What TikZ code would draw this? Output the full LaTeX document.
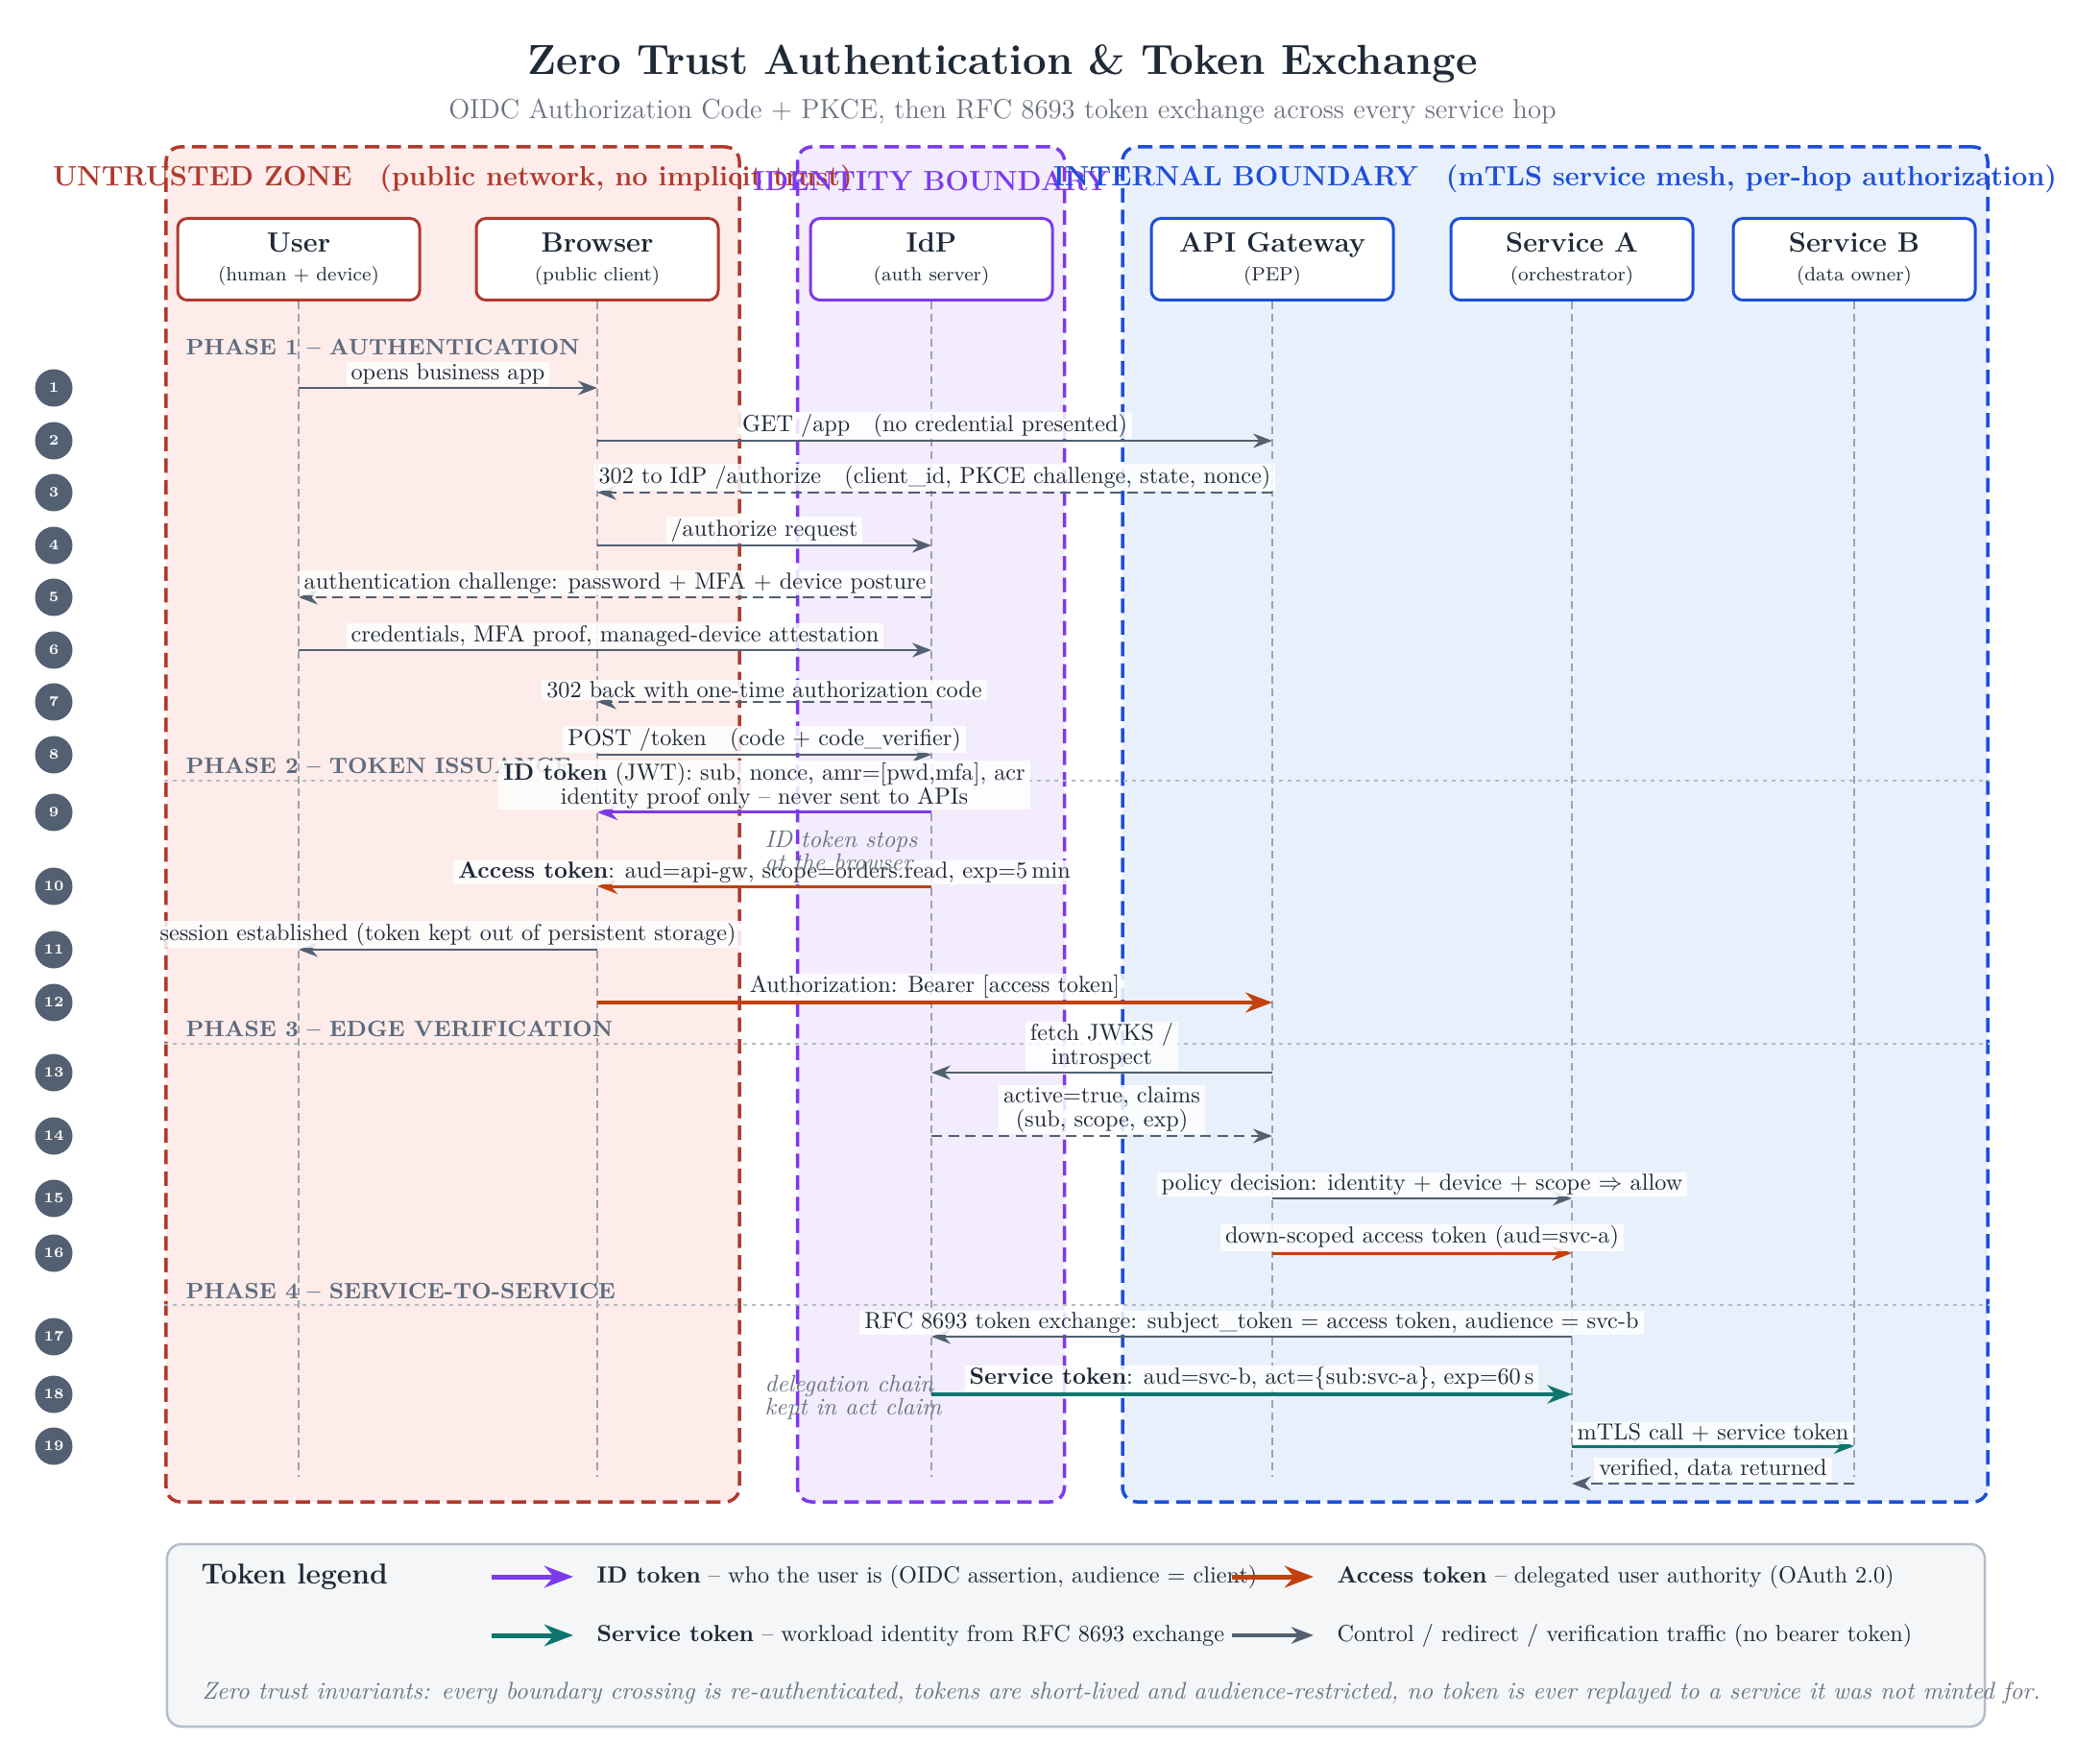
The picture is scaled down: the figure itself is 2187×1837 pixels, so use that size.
\documentclass[tikz,border=0pt]{standalone}
\usepackage{fontspec}
\usepackage{tikz}
\usetikzlibrary{arrows.meta, positioning, calc}

\definecolor{inkdark}{HTML}{1F2937}
\definecolor{inkgray}{HTML}{6B7280}
\definecolor{slate}{HTML}{526072}
\definecolor{phasetext}{HTML}{5E6B7D}
\definecolor{zonered}{HTML}{B03A2E}
\definecolor{zonepurple}{HTML}{7C3AED}
\definecolor{zoneblue}{HTML}{1D4ED8}
\definecolor{fillred}{HTML}{FDECEA}
\definecolor{fillpurple}{HTML}{F2ECFD}
\definecolor{fillblue}{HTML}{E8F0FB}
\definecolor{tokid}{HTML}{7C3AED}
\definecolor{tokaccess}{HTML}{C2410C}
\definecolor{tokservice}{HTML}{0F766E}
\definecolor{lifegray}{HTML}{9CA3AF}
\definecolor{phasegray}{HTML}{B5BBC4}
\definecolor{legendbg}{HTML}{F4F6F8}
\definecolor{legendline}{HTML}{B4BECA}

\begin{document}
\begin{tikzpicture}[
    x=0.4pt, y=-0.4pt,
    zone/.style={rectangle, draw=#1, line width=1.4pt, dash pattern=on 6pt off 3pt, rounded corners=6pt},
    zonelabel/.style={font=\fontsize{11.6}{13}\selectfont\bfseries, text=#1},
    actor/.style={rectangle, draw=#1, fill=white, line width=1.2pt, rounded corners=4pt, minimum width=100.8pt, minimum height=34pt, align=center, text=inkdark},
    lifeline/.style={draw=lifegray, line width=0.6pt, dash pattern=on 3.2pt off 2pt},
    phaseline/.style={draw=phasegray, line width=0.6pt, dash pattern=on 1.6pt off 2pt},
    phase/.style={anchor=west, inner sep=0pt, font=\fontsize{9.3}{11}\selectfont\bfseries, text=phasetext},
    stepnum/.style={circle, fill=slate, text=white, minimum size=15.6pt, inner sep=0pt, font=\fontsize{6}{7}\selectfont\bfseries},
    msg/.style={midway, above=0.4pt, fill=white, fill opacity=0.85, text opacity=1, inner xsep=2pt, inner ysep=0.6pt, align=center, text=inkdark, font=\fontsize{9.7}{10}\selectfont},
    note/.style={anchor=west, inner sep=0pt, align=left, text=inkgray, font=\fontsize{10}{9.8}\selectfont\itshape},
    ctrl/.style={-{Stealth}, line width=1.1pt, draw=slate},
    ctrldash/.style={ctrl, dash pattern=on 4.5pt off 2.5pt},
    tok/.style={-{Stealth}, line width=1.2pt, draw=#1},
    legendbox/.style={rectangle, draw=legendline, fill=legendbg, line width=1pt, rounded corners=6pt},
    legarrow/.style={-{Stealth}, line width=2pt, draw=#1},
    legtext/.style={anchor=west, inner sep=0pt, text=inkdark, font=\fontsize{9.7}{11}\selectfont}
]
\useasboundingbox (0,0) rectangle (2187,1837);

% === TITLE ===
\node[font=\fontsize{17.5}{21}\selectfont\bfseries, text=inkdark] (title) at (1044,66) {Zero Trust Authentication \& Token Exchange};
\node[font=\fontsize{11.5}{14}\selectfont, text=inkgray] (subtitle) at (1044,116) {OIDC Authorization Code + PKCE, then RFC 8693 token exchange across every service hop};

% === ZONES ===
\node[zone=zonered, fill=fillred, minimum width=238.8pt, minimum height=564.4pt] (untrusted) at (471.5,858.5) {};
\node[zone=zonepurple, fill=fillpurple, minimum width=111.2pt, minimum height=564.4pt] (identity) at (969.5,858.5) {};
\node[zone=zoneblue, fill=fillblue, minimum width=360.4pt, minimum height=564.4pt] (internal) at (1619.5,858.5) {};

\node[zonelabel=zonered] at ([yshift=-14.2pt]untrusted.north) {UNTRUSTED ZONE\quad(public network, no implicit trust)};
\node[zonelabel=zonepurple] at ([yshift=-15pt]identity.north) {IDENTITY BOUNDARY};
\node[zonelabel=zoneblue] at ([yshift=-14.2pt]internal.north) {INTERNAL BOUNDARY\quad(mTLS service mesh, per-hop authorization)};

% === PARTICIPANTS ===
\node[actor=zonered] (user) at (311,270) {{\fontsize{11.6}{13}\selectfont\bfseries User}\\[0pt]{\footnotesize (human + device)}};
\node[actor=zonered] (browser) at (622,270) {{\fontsize{11.6}{13}\selectfont\bfseries Browser}\\[0pt]{\footnotesize (public client)}};
\node[actor=zonepurple] (idp) at (970,270) {{\fontsize{11.6}{13}\selectfont\bfseries IdP}\\[0pt]{\footnotesize (auth server)}};
\node[actor=zoneblue] (gw) at (1325,270) {{\fontsize{11.6}{13}\selectfont\bfseries API Gateway}\\[0pt]{\footnotesize (PEP)}};
\node[actor=zoneblue] (svca) at (1637,270) {{\fontsize{11.6}{13}\selectfont\bfseries Service A}\\[0pt]{\footnotesize (orchestrator)}};
\node[actor=zoneblue] (svcb) at (1931,270) {{\fontsize{11.6}{13}\selectfont\bfseries Service B}\\[0pt]{\footnotesize (data owner)}};

\coordinate (lifeend) at (0,1538);
\foreach \a in {user,browser,idp,gw,svca,svcb}
    \draw[lifeline] (\a.south) -- (\a |- lifeend);

% === PHASES ===
\coordinate (p2) at (0,813);
\coordinate (p3) at (0,1087);
\coordinate (p4) at (0,1359);
\foreach \p in {p2,p3,p4}
    \draw[phaseline] (untrusted.west |- \p) -- (internal.east |- \p);

\node[phase] (ph1) at (193,362) {PHASE 1 -- AUTHENTICATION};
\node[phase] (ph2) at (193,798) {PHASE 2 -- TOKEN ISSUANCE};
\node[phase] (ph3) at (193,1071) {PHASE 3 -- EDGE VERIFICATION};
\node[phase] (ph4) at (193,1344) {PHASE 4 -- SERVICE-TO-SERVICE};

% === STEP NUMBERS ===
\foreach \n/\yy in {1/404, 2/459, 3/513, 4/568, 5/622, 6/677, 7/731, 8/786, 9/846, 10/923,
                    11/989, 12/1044, 13/1117, 14/1183, 15/1248, 16/1305, 17/1392, 18/1452, 19/1506} {
    \coordinate (s\n) at (0,\yy);
    \node[stepnum] (num\n) at (56,\yy) {\n};
}
\coordinate (s19b) at (0,1545);

% === MESSAGES ===
% Phase 1
\draw[ctrl] (user |- s1) -- node[msg] {opens business app} (browser |- s1);
\draw[ctrl] (browser |- s2) -- node[msg] {GET /app\quad(no credential presented)} (gw |- s2);
\draw[ctrldash] (gw |- s3) -- node[msg] {302 to IdP /authorize\quad(client\_id, PKCE challenge, state, nonce)} (browser |- s3);
\draw[ctrl] (browser |- s4) -- node[msg] {/authorize request} (idp |- s4);
\draw[ctrldash] (idp |- s5) -- node[msg] {authentication challenge: password + MFA + device posture} (user |- s5);
\draw[ctrl] (user |- s6) -- node[msg] {credentials, MFA proof, managed-device attestation} (idp |- s6);
\draw[ctrldash] (idp |- s7) -- node[msg] {302 back with one-time authorization code} (browser |- s7);
\draw[ctrl] (browser |- s8) -- node[msg] {POST /token\quad(code + code\_verifier)} (idp |- s8);

% Phase 2
\draw[tok=tokid] (idp |- s9) -- node[msg] {\textbf{ID token} (JWT): sub, nonce, amr=[pwd,mfa], acr\\identity proof only -- never sent to APIs} (browser |- s9);
\draw[tok=tokaccess] (idp |- s10) -- node[msg] {\textbf{Access token}: aud=api-gw, scope=orders.read, exp=5\,min} (browser |- s10);
\node[note] (idnote) at (796,886) {ID token stops\\at the browser};
\draw[ctrl] (browser |- s11) -- node[msg] {session established (token kept out of persistent storage)} (user |- s11);
\draw[tok=tokaccess, line width=1.8pt] (browser |- s12) -- node[msg] {Authorization: Bearer [access token]} (gw |- s12);

% Phase 3
\draw[ctrl] (gw |- s13) -- node[msg] {fetch JWKS /\\introspect} (idp |- s13);
\draw[ctrldash] (idp |- s14) -- node[msg] {active=true, claims\\(sub, scope, exp)} (gw |- s14);
\draw[ctrl] (gw |- s15) -- node[msg] {policy decision: identity + device + scope $\Rightarrow$ allow} (svca |- s15);
\draw[tok=tokaccess] (gw |- s16) -- node[msg] {down-scoped access token (aud=svc-a)} (svca |- s16);

% Phase 4
\draw[ctrl] (svca |- s17) -- node[msg] {RFC 8693 token exchange: subject\_token = access token, audience = svc-b} (idp |- s17);
\draw[tok=tokservice, line width=1.6pt] (idp |- s18) -- node[msg] {\textbf{Service token}: aud=svc-b, act=\{sub:svc-a\}, exp=60\,s} (svca |- s18);
\node[note] (delegnote) at (796,1455) {delegation chain\\kept in act claim};
\draw[tok=tokservice] (svca |- s19) -- node[msg] {mTLS call + service token} (svcb |- s19);
\draw[ctrldash] (svcb |- s19b) -- node[msg] {verified, data returned} (svca |- s19b);

% === LEGEND ===
\node[legendbox, minimum width=757.2pt, minimum height=76pt] (legend) at (1120.5,1703) {};
\node[anchor=west, inner sep=0pt, font=\large\bfseries, text=inkdark] (legtitle) at (209,1642) {Token legend};

\node[legtext] (lid) at (621,1642) {\textbf{ID token} -- who the user is (OIDC assertion, audience = client)};
\node[legtext] (lacc) at (1392,1642) {\textbf{Access token} -- delegated user authority (OAuth 2.0)};
\node[legtext] (lsvc) at (621,1703) {\textbf{Service token} -- workload identity from RFC 8693 exchange};
\node[legtext] (lctl) at (1392,1703) {Control / redirect / verification traffic (no bearer token)};

\draw[legarrow=tokid] ([xshift=-43.6pt]lid.west) -- ([xshift=-9.6pt]lid.west);
\draw[legarrow=tokaccess] ([xshift=-43.6pt]lacc.west) -- ([xshift=-9.6pt]lacc.west);
\draw[legarrow=tokservice] ([xshift=-43.6pt]lsvc.west) -- ([xshift=-9.6pt]lsvc.west);
\draw[legarrow=slate, line width=1.4pt] ([xshift=-43.6pt]lctl.west) -- ([xshift=-9.6pt]lctl.west);

\node[anchor=west, inner sep=0pt, font=\fontsize{10.1}{12}\selectfont\itshape, text=inkgray] (invariants) at (210,1763) {Zero trust invariants: every boundary crossing is re-authenticated, tokens are short-lived and audience-restricted, no token is ever replayed to a service it was not minted for.};

\end{tikzpicture}
\end{document}
